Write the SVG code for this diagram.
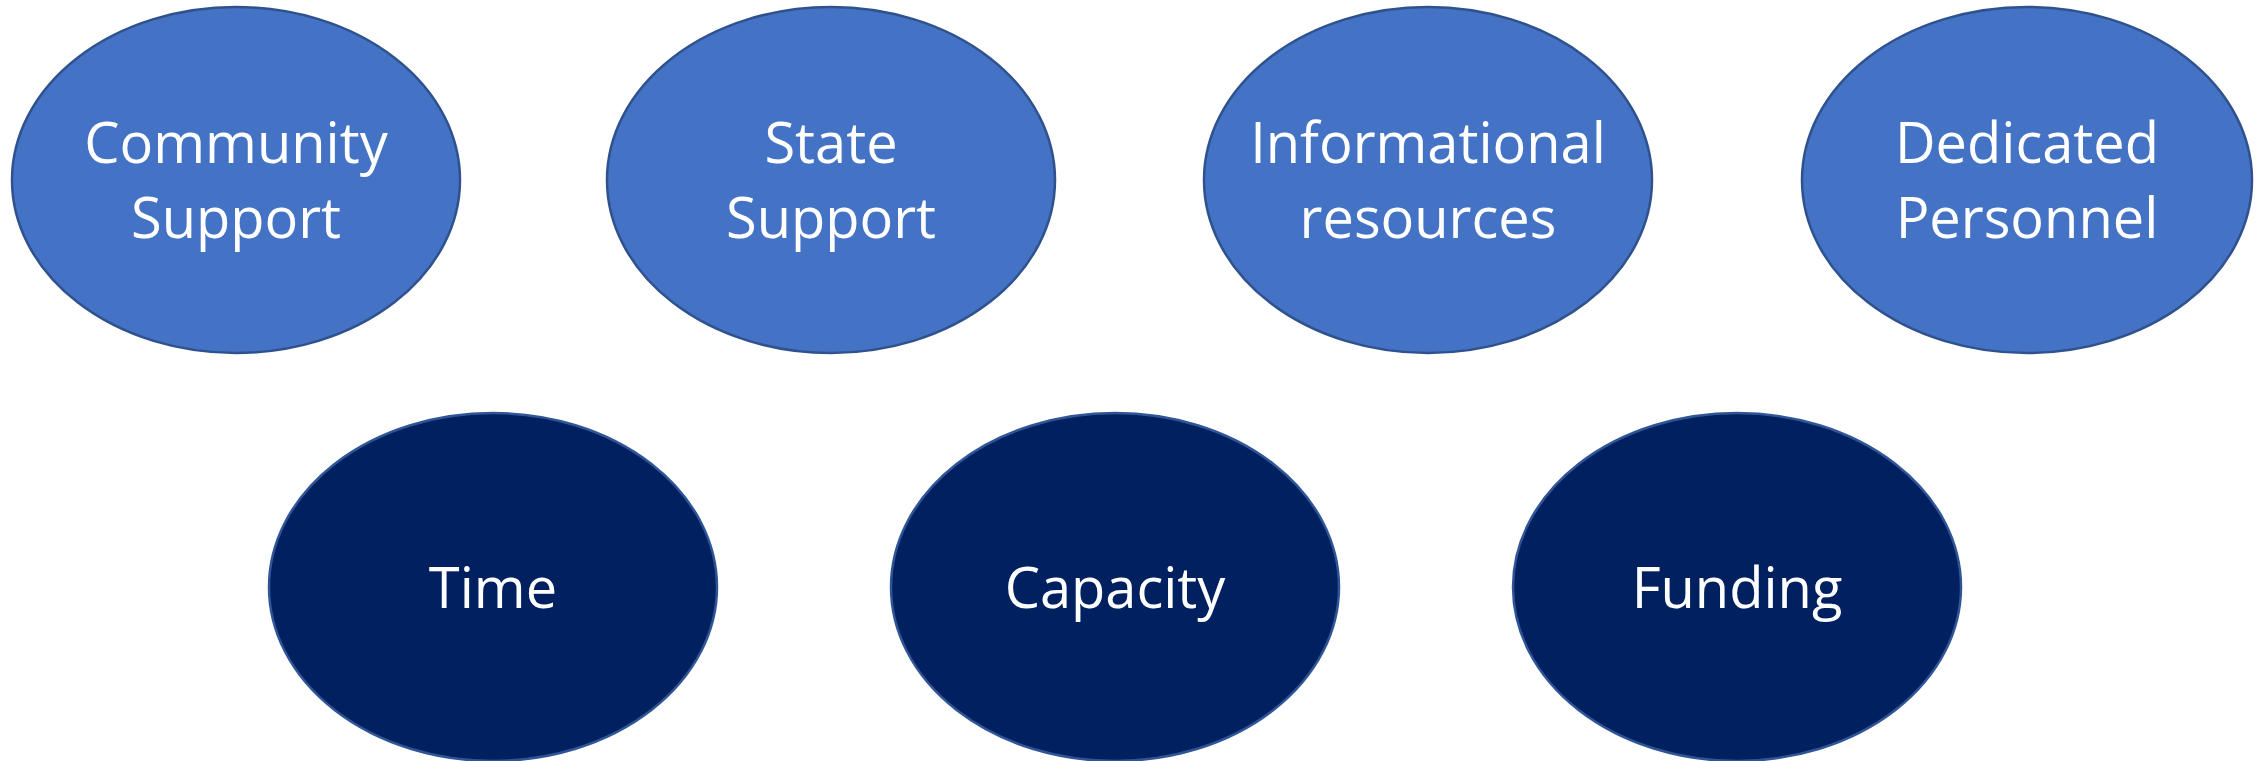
<svg xmlns="http://www.w3.org/2000/svg" width="2267" height="761" viewBox="0 0 2267 761">
  <style>
    .top { fill: #4472C4; stroke: #2F528F; stroke-width: 2.5; }
    .bot { fill: #002060; stroke: #2F5597; stroke-width: 2.5; }
    .lbl { fill: #FFFFFF; font-family: "Open Sans", "Liberation Sans", sans-serif; font-size: 56px; text-anchor: middle; }
  </style>
  <rect x="0" y="0" width="2267" height="761" fill="#FFFFFF"/>
  <g id="connectors"></g>
  <g id="community-support">
    <ellipse class="top" cx="236" cy="180" rx="224" ry="173"/>
    <text class="lbl" x="236" y="163">Community</text>
    <text class="lbl" x="236" y="238">Support</text>
  </g>
  <g id="state-support">
    <ellipse class="top" cx="831" cy="180" rx="224" ry="173"/>
    <text class="lbl" x="831" y="163">State</text>
    <text class="lbl" x="831" y="238">Support</text>
  </g>
  <g id="informational-resources">
    <ellipse class="top" cx="1428" cy="180" rx="224" ry="173"/>
    <text class="lbl" x="1428" y="163">Informational</text>
    <text class="lbl" x="1428" y="238">resources</text>
  </g>
  <g id="dedicated-personnel">
    <ellipse class="top" cx="2027" cy="180" rx="225" ry="173"/>
    <text class="lbl" x="2027" y="163">Dedicated</text>
    <text class="lbl" x="2027" y="238">Personnel</text>
  </g>
  <g id="time">
    <ellipse class="bot" cx="493" cy="587" rx="224" ry="174"/>
    <text class="lbl" x="493" y="608">Time</text>
  </g>
  <g id="capacity">
    <ellipse class="bot" cx="1115" cy="587" rx="224" ry="174"/>
    <text class="lbl" x="1115" y="608">Capacity</text>
  </g>
  <g id="funding">
    <ellipse class="bot" cx="1737" cy="587" rx="224" ry="174"/>
    <text class="lbl" x="1737" y="608">Funding</text>
  </g>
</svg>
